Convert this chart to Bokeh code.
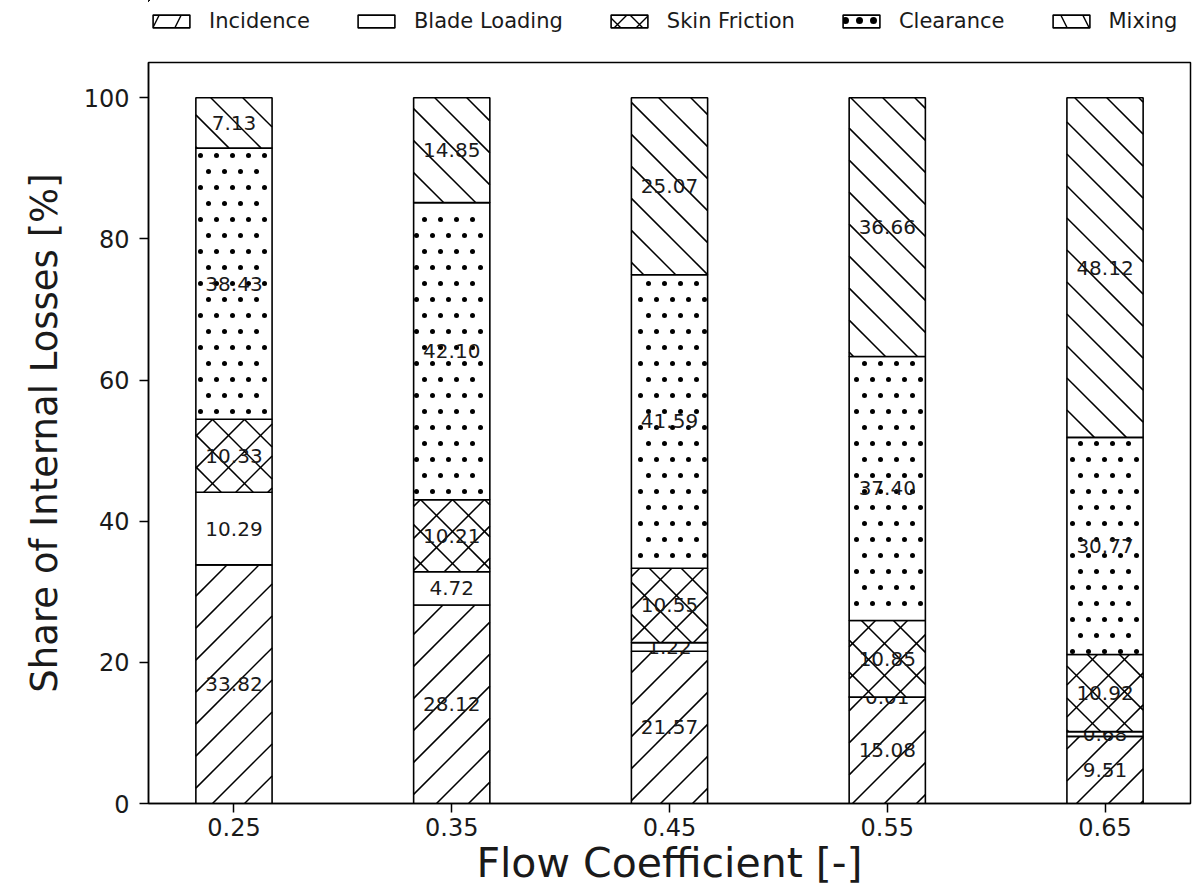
import math

from bokeh.plotting import figure
from bokeh.layouts import column
from bokeh.models import (ColumnDataSource, FixedTicker, Legend, LegendItem, Range1d)
from bokeh.core.properties import value
from bokeh.embed import file_html
from bokeh.resources import INLINE

# Loss breakdown per flow coefficient (percent of internal losses)
flow_coefficients = [0.25, 0.35, 0.45, 0.55, 0.65]
tick_labels = ["0.25", "0.35", "0.45", "0.55", "0.65"]
incidence = [33.82, 28.12, 21.57, 15.08, 9.51]
blade_loading = [10.29, 4.72, 1.22, 0.01, 0.68]
skin_friction = [10.33, 10.21, 10.55, 10.85, 10.92]
clearance = [38.43, 42.10, 41.59, 37.40, 30.77]
mixing = [7.13, 14.85, 25.07, 36.66, 48.12]
series_names = ["Incidence", "Blade Loading", "Skin Friction", "Clearance", "Mixing"]
series_values = [incidence, blade_loading, skin_friction, clearance, mixing]
# fill style of each share: forward lines, none, crossed lines, dots, backward lines
series_fill = ["/", "", "x", ".", "\\"]

BAR_WIDTH = 0.035
FONT = "DejaVu Sans"
FRAME_W, FRAME_H = 1042, 741
LINE_GAP = 32.0   # hatch line spacing in screen pixels
DOT_GAP = 16.0    # dot spacing in screen pixels

span = flow_coefficients[-1] - flow_coefficients[0] + BAR_WIDTH
pad = 0.05 * span
x_start = flow_coefficients[0] - BAR_WIDTH / 2 - pad
x_end = flow_coefficients[-1] + BAR_WIDTH / 2 + pad
y_start, y_end = 0.0, 105.0

kx = FRAME_W / (x_end - x_start)
ky = FRAME_H / (y_end - y_start)


def to_px(x, y):
    return (x - x_start) * kx, (y - y_start) * ky


def to_data(px, py):
    return px / kx + x_start, py / ky + y_start


def diagonal_lines(rects, forward):
    """45-degree hatch segments clipped to each rectangle, in data units."""
    out = dict(x0=[], y0=[], x1=[], y1=[])
    for xa, xb, ya, yb in rects:
        X0, Y0 = to_px(xa, ya)
        X1, Y1 = to_px(xb, yb)
        if forward:
            cmin, cmax = X0 - Y1, X1 - Y0
        else:
            cmin, cmax = X0 + Y0, X1 + Y1
        c = math.ceil(cmin / LINE_GAP) * LINE_GAP
        while c < cmax:
            if forward:
                lo, hi = max(Y0, X0 - c), min(Y1, X1 - c)
                pa, pb = (lo + c, lo), (hi + c, hi)
            else:
                lo, hi = max(Y0, c - X1), min(Y1, c - X0)
                pa, pb = (c - lo, lo), (c - hi, hi)
            if hi - lo > 0.5:
                ax_, ay_ = to_data(*pa)
                bx_, by_ = to_data(*pb)
                out["x0"].append(ax_); out["y0"].append(ay_)
                out["x1"].append(bx_); out["y1"].append(by_)
            c += LINE_GAP
    return out


def dot_lattice(rects):
    """Staggered dot centres inside each rectangle, in data units."""
    out = dict(x=[], y=[])
    for xa, xb, ya, yb in rects:
        X0, Y0 = to_px(xa, ya)
        X1, Y1 = to_px(xb, yb)
        for k in range(int(Y0 // DOT_GAP) - 1, int(Y1 // DOT_GAP) + 2):
            Y = k * DOT_GAP + DOT_GAP / 2
            if not (Y0 + 1.5 < Y < Y1 - 1.5):
                continue
            shift = DOT_GAP / 2 if k % 2 else 0.0
            for m in range(int(X0 // DOT_GAP) - 1, int(X1 // DOT_GAP) + 2):
                X = m * DOT_GAP + shift + 4
                if X0 + 1.5 < X < X1 - 1.5:
                    dx, dy = to_data(X, Y)
                    out["x"].append(dx); out["y"].append(dy)
    return out


p = figure(frame_width=FRAME_W, frame_height=FRAME_H,
           x_range=Range1d(x_start, x_end), y_range=Range1d(y_start, y_end),
           output_backend="svg", toolbar_location=None,
           min_border_left=148, min_border_right=12,
           min_border_top=20, min_border_bottom=90)
p.background_fill_color = "white"
p.border_fill_color = "white"
p.outline_line_color = "black"
p.outline_line_width = 1.5
p.grid.visible = False

# strip above the chart that carries the legend; its ranges sit well away
# from the data so the swatch bars stay out of view
key = figure(frame_width=FRAME_W, frame_height=42,
             x_range=Range1d(10, 11), y_range=Range1d(-1001, -1000),
             output_backend="svg", toolbar_location=None,
             x_axis_type=None, y_axis_type=None,
             min_border_left=148, min_border_right=12,
             min_border_top=0, min_border_bottom=0)
key.outline_line_color = None
key.background_fill_color = "white"
key.border_fill_color = "white"
key.grid.visible = False

legend_hatch = {"/": ("/", 44), "": ("blank", 12), "x": ("x", 22),
                ".": (".", 14), "\\": ("\\", 44)}

bottoms = [0.0] * len(flow_coefficients)
legend_items = []
for name, vals, fill in zip(series_names, series_values, series_fill):
    tops = [b + v for b, v in zip(bottoms, vals)]
    src = ColumnDataSource(dict(
        x=flow_coefficients, bottom=bottoms, top=tops,
        mid=[(b + t) / 2 for b, t in zip(bottoms, tops)],
        label=[f"{v:.2f}" for v in vals],
    ))
    p.vbar(x="x", bottom="bottom", top="top", width=BAR_WIDTH, source=src,
           fill_color="white", line_color=None)

    rects = [(x - BAR_WIDTH / 2, x + BAR_WIDTH / 2, b, t)
             for x, b, t in zip(flow_coefficients, bottoms, tops)]
    if fill in ("/", "x"):
        p.segment(source=ColumnDataSource(diagonal_lines(rects, True)),
                  x0="x0", y0="y0", x1="x1", y1="y1",
                  line_color="black", line_width=1.5)
    if fill in ("\\", "x"):
        p.segment(source=ColumnDataSource(diagonal_lines(rects, False)),
                  x0="x0", y0="y0", x1="x1", y1="y1",
                  line_color="black", line_width=1.5)
    if fill == ".":
        p.scatter(source=ColumnDataSource(dot_lattice(rects)), x="x", y="y",
                  marker="circle", size=5, fill_color="black", line_color=None)

    p.vbar(x="x", bottom="bottom", top="top", width=BAR_WIDTH, source=src,
           fill_color=None, line_color="black", line_width=1.6)
    p.text(x="x", y="mid", text="label", source=src,
           text_align="center", text_baseline="middle",
           text_font=value(FONT), text_font_size="20px", text_color="#1a1a1a")

    # legend swatch
    pat, sc = legend_hatch[fill]
    swatch = key.vbar(x="x", bottom="bottom", top="top", width=BAR_WIDTH, source=src,
                      fill_color="white", line_color="black", line_width=1.6,
                      hatch_pattern=pat, hatch_color="black", hatch_weight=1.4,
                      hatch_scale=sc)
    legend_items.append(LegendItem(label=name, renderers=[swatch]))
    bottoms = tops

# axes
p.xaxis.ticker = FixedTicker(ticks=flow_coefficients)
p.xaxis.major_label_overrides = {x: t for x, t in zip(flow_coefficients, tick_labels)}
p.yaxis.ticker = FixedTicker(ticks=[0, 20, 40, 60, 80, 100])
p.xaxis.axis_label = "Flow Coefficient [-]"
p.yaxis.axis_label = "Share of Internal Losses [%]"
for ax in (p.xaxis, p.yaxis):
    ax.axis_line_color = "black"
    ax.axis_line_width = 1.5
    ax.major_tick_line_color = "black"
    ax.major_tick_line_width = 1.5
    ax.major_tick_out = 9
    ax.major_tick_in = 0
    ax.minor_tick_line_color = None
    ax.major_label_text_font = FONT
    ax.major_label_text_font_size = "24px"
    ax.major_label_text_color = "#1a1a1a"
    ax.axis_label_text_font = FONT
    ax.axis_label_text_font_style = "normal"
    ax.axis_label_text_color = "#1a1a1a"
p.yaxis.axis_label_text_font_size = "37px"
p.xaxis.axis_label_text_font_size = "41px"
p.yaxis.major_label_standoff = 10
p.yaxis.axis_label_standoff = 15
p.xaxis.major_label_standoff = 5
p.xaxis.axis_label_standoff = 0

legend = Legend(
    items=legend_items, orientation="horizontal", location=(0, 9),
    glyph_width=46, glyph_height=16, label_standoff=15, spacing=43,
    padding=0, margin=0, border_line_alpha=0, background_fill_alpha=0,
    label_text_font=FONT, label_text_font_size="21px", label_text_color="#1a1a1a",
)
key.add_layout(legend)

open("out.html", "w").write(file_html(column(key, p, spacing=0), INLINE))
